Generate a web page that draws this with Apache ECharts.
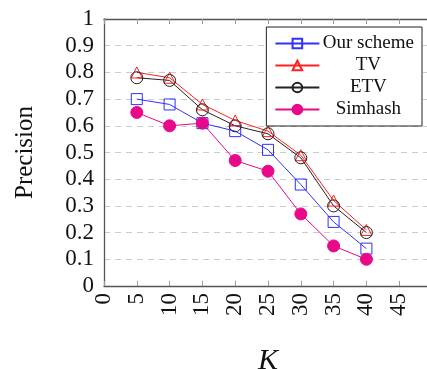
<!DOCTYPE html>
<html>
<head>
<meta charset="utf-8">
<script src="https://cdn.jsdelivr.net/npm/echarts@6/dist/echarts.min.js"></script>
<style>
  html, body { margin: 0; padding: 0; background: #fff; }
  #chart { width: 427px; height: 369px; }
</style>
</head>
<body>
<div id="chart"></div>
<script>
const kValues = [5, 10, 15, 20, 25, 30, 35, 40];
const ourScheme = [0.70, 0.68, 0.61, 0.58, 0.51, 0.38, 0.24, 0.14];
const tv = [0.80, 0.78, 0.68, 0.62, 0.58, 0.49, 0.32, 0.21];
const etv = [0.78, 0.77, 0.66, 0.60, 0.57, 0.48, 0.30, 0.20];
const simhash = [0.65, 0.60, 0.61, 0.47, 0.43, 0.27, 0.15, 0.10];

const font = "'Liberation Serif', 'DejaVu Serif', serif";

const pair = arr => kValues.map((k, i) => [k, arr[i]]);

const makeSeries = (name, data, color, symbol, size, filled) => ({
  name: name,
  type: "line",
  data: pair(data),
  symbol: symbol,
  symbolSize: size,
  showSymbol: true,
  lineStyle: { color: color, width: 1 },
  itemStyle: {
    color: filled ? color : "rgba(0,0,0,0)",
    borderColor: color,
    borderWidth: 1
  },
  emphasis: { disabled: true },
  z: 3
});

const chart = echarts.init(document.getElementById("chart"));

const option = {
  animation: false,
  textStyle: { fontFamily: font },
  grid: { left: 104, top: 19, right: -5, bottom: 83, containLabel: false, outerBoundsMode: "none" },
  legend: {
    orient: "vertical",
    right: 5,
    top: 27,
    padding: [7, 8, 7, 8],
    itemGap: 3,
    itemWidth: 44,
    itemHeight: 12,
    borderColor: "#222",
    borderWidth: 1,
    backgroundColor: "#fff",
    formatter: name => "{c|" + name + "}",
    textStyle: {
      fontFamily: font,
      fontSize: 19,
      color: "#111",
      rich: { c: { width: 88, align: "center", fontFamily: font, fontSize: 19, color: "#111" } }
    },
    data: ["Our scheme", "TV", "ETV", "Simhash"]
  },
  xAxis: [
    {
      type: "value",
      min: 0,
      max: 50,
      interval: 5,
      name: "K",
      nameLocation: "middle",
      nameGap: 60,
      nameTextStyle: { fontFamily: font, fontSize: 30, fontStyle: "italic", color: "#111" },
      axisLine: { show: true, lineStyle: { color: "#555", width: 1.3 } },
      axisTick: { show: true, inside: true, length: 5, lineStyle: { color: "#999" } },
      axisLabel: {
        rotate: 90,
        margin: 7,
        fontFamily: font,
        fontSize: 23,
        color: "#111",
        formatter: v => (v >= 50 ? "" : String(v))
      },
      splitLine: { show: false }
    },
    {
      type: "value",
      position: "top",
      min: 0,
      max: 50,
      interval: 5,
      axisLine: { show: true, lineStyle: { color: "#555", width: 1.3 } },
      axisTick: { show: true, inside: true, length: 5, lineStyle: { color: "#999" } },
      axisLabel: { show: false },
      splitLine: { show: false }
    }
  ],
  yAxis: [
    {
      type: "value",
      min: 0,
      max: 1,
      interval: 0.1,
      name: "Precision",
      nameLocation: "middle",
      nameGap: 66,
      nameTextStyle: { fontFamily: font, fontSize: 25, color: "#111" },
      axisLine: { show: true, lineStyle: { color: "#555", width: 1.3 } },
      axisTick: { show: false },
      axisLabel: {
        margin: 10,
        fontFamily: font,
        fontSize: 23,
        color: "#111",
        formatter: v => String(Math.round(v * 10) / 10)
      },
      splitLine: { show: true, lineStyle: { color: "#ccc", type: [6, 5], width: 1 } }
    }
  ],
  series: [
    makeSeries("Our scheme", ourScheme, "#3030ff", "rect", 11, false),
    makeSeries("TV", tv, "#ff2020", "triangle", 11, false),
    makeSeries("ETV", etv, "#222222", "circle", 12, false),
    makeSeries("Simhash", simhash, "#e8088a", "circle", 12, true)
  ]
};

chart.setOption(option);
</script>
</body>
</html>
